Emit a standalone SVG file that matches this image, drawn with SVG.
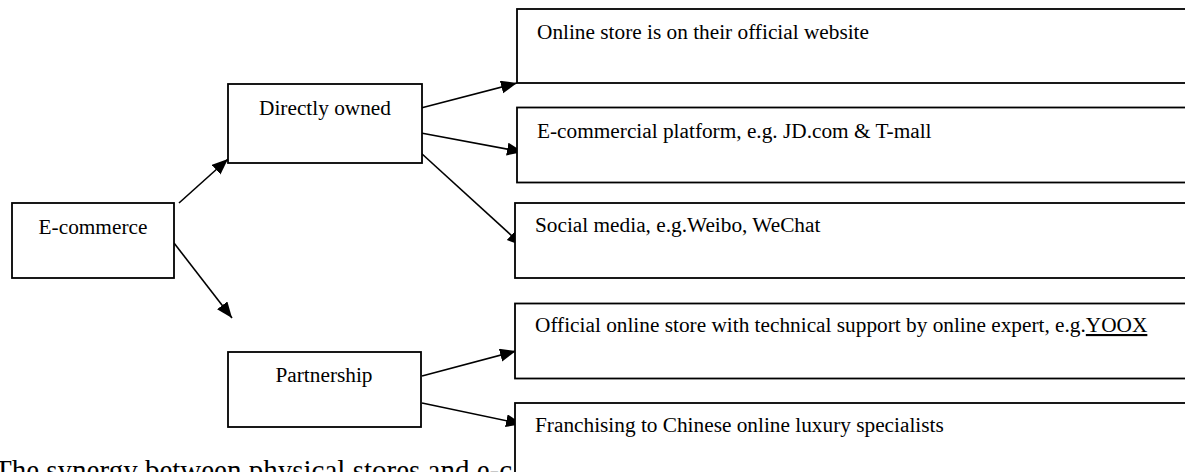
<svg xmlns="http://www.w3.org/2000/svg" width="1185" height="472" viewBox="0 0 1185 472">
<style>
.box{fill:#fff;stroke:#000;stroke-width:1.8}
.t{font-family:"Liberation Serif","Times New Roman",serif;font-size:21.3px;fill:#000}
.c{text-anchor:middle}
.ln{stroke:#000;stroke-width:1.6;fill:none;marker-end:url(#ah)}
</style>
<defs>
<marker id="ah" markerUnits="userSpaceOnUse" markerWidth="18" markerHeight="14" refX="16" refY="6.5" orient="auto">
<path d="M0,0 L16,6.5 L0,13 z" fill="#000"/>
</marker>
</defs>
<rect width="1185" height="472" fill="#fff"/>
<text class="t" x="-6" y="480" style="font-size:29px">The synergy between physical stores and e-c</text>
<g id="connectors">
<line class="ln" x1="179" y1="203" x2="228" y2="159"/>
<line class="ln" x1="174" y1="243" x2="232" y2="318"/>
<line class="ln" x1="421" y1="108" x2="517" y2="83"/>
<line class="ln" x1="421" y1="133" x2="523" y2="152"/>
<line class="ln" x1="421" y1="153" x2="523" y2="246"/>
<line class="ln" x1="422" y1="376" x2="516" y2="351"/>
<line class="ln" x1="422" y1="403" x2="522" y2="424"/>
</g>
<g id="ecommerce">
<rect class="box" x="12" y="203" width="162" height="75"/>
<text class="t c" x="93" y="234">E-commerce</text>
</g>
<g id="directly-owned">
<rect class="box" x="228" y="84" width="194" height="79"/>
<text class="t c" x="325" y="115">Directly owned</text>
</g>
<g id="partnership">
<rect class="box" x="228" y="352" width="193" height="75"/>
<text class="t c" x="324" y="382">Partnership</text>
</g>
<g id="online-store">
<rect class="box" x="517" y="9" width="700" height="74"/>
<text class="t" x="537" y="39">Online store is on their official website</text>
</g>
<g id="e-commercial">
<rect class="box" x="517" y="107.5" width="700" height="75"/>
<text class="t" x="537" y="138">E-commercial platform, e.g. JD.com &amp; T-mall</text>
</g>
<g id="social-media">
<rect class="box" x="515" y="203" width="700" height="75"/>
<text class="t" x="535" y="232">Social media, e.g.Weibo, WeChat</text>
</g>
<g id="official-online">
<rect class="box" x="515" y="303.5" width="700" height="75"/>
<text class="t" x="535" y="332">Official online store with technical support by online expert, e.g.<tspan text-decoration="underline">YOOX</tspan></text>
</g>
<g id="franchising">
<rect class="box" x="515" y="403" width="700" height="120"/>
<text class="t" x="535" y="432">Franchising to Chinese online luxury specialists</text>
</g>
</svg>
